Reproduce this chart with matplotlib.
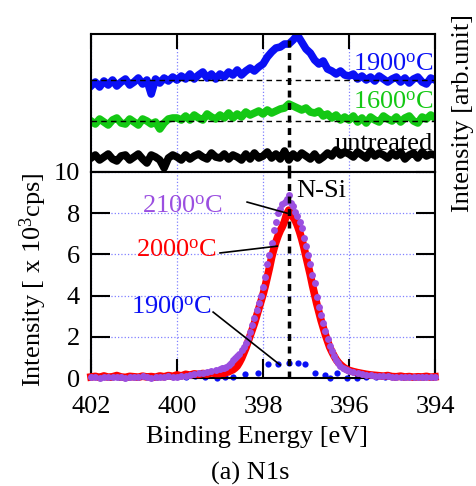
import numpy as np
import matplotlib
matplotlib.use("Agg")
import matplotlib.pyplot as plt

plt.rcParams['font.family'] = ['Liberation Serif', 'DejaVu Serif']
plt.rcParams['mathtext.fontset'] = 'custom'
plt.rcParams['mathtext.rm'] = 'Liberation Serif'
plt.rcParams['mathtext.it'] = 'Liberation Serif:italic'

# 🔹 Bottom panel: N1s intensity [x 10^3 cps]
energy_peak = [
    402.0, 401.9, 401.8, 401.7, 401.6, 401.5, 401.4, 401.3, 401.2, 401.1,
    401.0, 400.9, 400.8, 400.7, 400.6, 400.5, 400.4, 400.3, 400.2, 400.1,
    400.0, 399.9, 399.8, 399.7, 399.6, 399.5, 399.4, 399.3, 399.2, 399.1,
    399.0, 398.95, 398.9, 398.85, 398.8, 398.75, 398.7, 398.65, 398.6, 398.55,
    398.5, 398.45, 398.4, 398.35, 398.3, 398.25, 398.2, 398.15, 398.1, 398.05,
    398.0, 397.95, 397.9, 397.85, 397.8, 397.75, 397.7, 397.65, 397.6, 397.55,
    397.5, 397.45, 397.4, 397.35, 397.3, 397.25, 397.2, 397.15, 397.1, 397.05,
    397.0, 396.95, 396.9, 396.85, 396.8, 396.75, 396.7, 396.65, 396.6, 396.55,
    396.5, 396.45, 396.4, 396.35, 396.3, 396.25, 396.2, 396.15, 396.1, 396.05,
    396.0, 395.9, 395.8, 395.7, 395.6, 395.5, 395.4, 395.3, 395.2, 395.1,
    395.0, 394.9, 394.8, 394.7, 394.6, 394.5, 394.4, 394.3, 394.2, 394.1,
    394.0,
]
int_2100 = [
    0.03, 0.05, 0.02, 0.06, 0.04, 0.03, 0.05, 0.04, 0.02, 0.06,
    0.05, 0.03, 0.08, 0.04, 0.02, 0.05, 0.04, 0.06, 0.09, 0.05,
    0.06, 0.12, 0.10, 0.15, 0.18, 0.22, 0.25, 0.27, 0.33, 0.38,
    0.45, 0.47, 0.50, 0.55, 0.62, 0.72, 0.85, 0.98, 1.08, 1.18,
    1.35, 1.52, 1.70, 1.95, 2.25, 2.55, 2.90, 3.30, 3.65, 4.00,
    4.40, 4.90, 5.55, 5.95, 6.55, 7.20, 7.55, 8.00, 8.20, 8.45,
    8.55, 8.70, 8.88, 8.50, 8.35, 8.05, 7.85, 7.55, 7.30, 6.80,
    6.40, 5.95, 5.55, 5.00, 4.60, 3.95, 3.45, 3.05, 2.65, 2.30,
    1.90, 1.55, 1.30, 1.05, 0.85, 0.72, 0.60, 0.50, 0.45, 0.40,
    0.35, 0.28, 0.25, 0.20, 0.17, 0.15, 0.12, 0.10, 0.08, 0.10,
    0.06, 0.05, 0.07, 0.04, 0.06, 0.03, 0.05, 0.04, 0.06, 0.03,
    0.05,
]
int_2000 = [
    0.05, 0.08, 0.03, 0.10, 0.04, 0.06, 0.12, 0.05, 0.03, 0.08,
    0.06, 0.04, 0.09, 0.05, 0.07, 0.04, 0.10, 0.06, 0.12, 0.08,
    0.15, 0.10, 0.18, 0.14, 0.20, 0.17, 0.22, 0.19, 0.25, 0.22,
    0.22, 0.25, 0.23, 0.28, 0.30, 0.36, 0.40, 0.48, 0.58, 0.75,
    0.95, 1.20, 1.45, 1.75, 2.05, 2.35, 2.65, 3.00, 3.35, 3.70,
    4.05, 4.45, 4.90, 5.35, 5.85, 6.25, 6.60, 6.90, 7.15, 7.35,
    7.60, 7.95, 8.15, 8.00, 7.80, 7.65, 7.40, 7.10, 6.75, 6.35,
    5.90, 5.45, 5.00, 4.50, 4.05, 3.60, 3.20, 2.80, 2.45, 2.10,
    1.80, 1.50, 1.28, 1.08, 0.90, 0.76, 0.65, 0.56, 0.48, 0.42,
    0.37, 0.31, 0.26, 0.22, 0.18, 0.15, 0.13, 0.11, 0.09, 0.12,
    0.07, 0.06, 0.09, 0.05, 0.07, 0.04, 0.06, 0.05, 0.08, 0.04,
    0.06,
]
energy_1900 = [
    402.0, 401.78, 401.56, 401.34, 401.12, 400.9, 400.68, 400.46, 400.24, 400.02,
    399.8, 399.58, 399.36, 399.08, 398.88, 398.69, 398.42, 398.11, 397.88, 397.64,
    397.39, 397.18, 397.02, 396.79, 396.56, 396.44, 396.29, 396.05, 395.82, 395.6,
    395.38, 395.16, 394.94, 394.72, 394.5, 394.28, 394.06,
]
int_1900 = [
    0.05, 0.08, 0.04, 0.06, 0.07, 0.05, 0.09, 0.06, 0.08, 0.10,
    0.07, 0.09, 0.05, 0.02, 0.04, 0.03, 0.18, 0.22, 0.66, 0.66,
    0.72, 0.74, 0.66, 0.26, 0.14, 0.01, 0.22, 0.00, 0.02, 0.06,
    0.04, 0.07, 0.05, 0.06, 0.04, 0.07, 0.05,
]

# 🔹 Top panel: stacked spectra [arb.unit]
energy_top = [
    402.0, 401.9, 401.8, 401.7, 401.6, 401.5, 401.4, 401.3, 401.2, 401.1,
    401.0, 400.9, 400.8, 400.7, 400.6, 400.5, 400.4, 400.3, 400.2, 400.1,
    400.0, 399.9, 399.8, 399.7, 399.6, 399.5, 399.4, 399.3, 399.2, 399.1,
    399.0, 398.9, 398.8, 398.7, 398.6, 398.5, 398.4, 398.3, 398.2, 398.1,
    398.0, 397.9, 397.8, 397.7, 397.6, 397.5, 397.4, 397.3, 397.2, 397.1,
    397.0, 396.9, 396.8, 396.7, 396.6, 396.5, 396.4, 396.3, 396.2, 396.1,
    396.0, 395.9, 395.8, 395.7, 395.6, 395.5, 395.4, 395.3, 395.2, 395.1,
    395.0, 394.9, 394.8, 394.7, 394.6, 394.5, 394.4, 394.3, 394.2, 394.1,
    394.0,
]
top_untreated = [
    14, 17, 12, 15, 18, 13, 11, 16, 17, 12,
    15, 18, 13, 9, 17, 15, 12, 4, 14, 17,
    15, 12, 17, 13, 16, 18, 15, 13, 19, 15,
    14, 18, 13, 17, 15, 12, 18, 13, 19, 14,
    16, 20, 14, 18, 13, 21, 12, 18, 14, 19,
    16, 13, 18, 12, 15, 19, 16, 22, 17, 20,
    18, 15, 20, 17, 14, 21, 16, 19, 17, 14,
    19, 16, 20, 13, 17, 19, 14, 20, 16, 18,
    17,
]
top_1600 = [
    51, 48, 53, 50, 47, 52, 54, 49, 48, 53,
    50, 47, 53, 51, 48, 50, 43, 49, 53, 54,
    54, 52, 56, 52, 57, 54, 52, 58, 55, 53,
    57, 54, 59, 54, 58, 55, 60, 57, 59, 61,
    58, 62, 59, 61, 63, 64, 68, 66, 64, 62,
    64, 60, 59, 61, 56, 58, 54, 57, 52, 55,
    52, 56, 50, 54, 49, 55, 52, 50, 56, 53,
    51, 55, 50, 54, 56, 51, 49, 55, 53, 57,
    54,
]
top_1900 = [
    86, 90, 85, 91, 87, 92, 86, 90, 93, 87,
    90, 94, 88, 92, 78, 93, 89, 94, 91, 95,
    92, 96, 93, 98, 93, 97, 100, 94, 98, 93,
    98, 95, 100, 97, 102, 97, 101, 104, 101, 105,
    108, 115, 120, 124, 125, 128, 128, 132, 137, 130,
    123, 119, 112, 108, 111, 103, 101, 98, 101, 97,
    96, 98, 93, 96, 92, 95, 91, 96, 93, 90,
    93, 95, 90, 94, 89, 93, 95, 90, 88, 94,
    92,
]
base_1900 = 92
base_1600 = 51

x_ticks = [402, 400, 398, 396, 394]
y_ticks = [0, 2, 4, 6, 8, 10]
peak_pos = 397.4

c_purple = "#9b4fe0"
c_red = "#ff0000"
c_blue = "#0a10f5"
c_green = "#14c814"
c_grid = "#8080ff"

fig = plt.figure(figsize=(4.77, 4.86), dpi=100)
ax_top = fig.add_axes([0.1908, 0.6461, 0.7212, 0.2839])
ax = fig.add_axes([0.1908, 0.2222, 0.7212, 0.4239])

# 🔹 Top panel
ax_top.plot(energy_top, top_untreated, color="black", lw=5.5)
ax_top.plot(energy_top, top_1600, color=c_green, lw=5.5)
ax_top.plot(energy_top, top_1900, color=c_blue, lw=5.5)
ax_top.axhline(base_1900, color="black", ls=(0, (4, 3)), lw=1.0, zorder=3)
ax_top.axhline(base_1600, color="black", ls=(0, (4, 3)), lw=1.0, zorder=3)
ax_top.axvline(peak_pos, color="black", ls=(0, (2, 1.6)), lw=2.5, zorder=4)
ax_top.set_xlim(402, 394)
ax_top.set_ylim(0, 138)
ax_top.set_xticks(x_ticks)
ax_top.set_yticks([])
ax_top.tick_params(axis="x", direction="in", length=11, width=1.5,
                   top=True, bottom=False, labelbottom=False, labeltop=False)
ax_top.grid(True, axis="x", color=c_grid, linestyle=":", linewidth=0.9)
ax_top.text(394.03, 107, r"1900$^{\mathrm{o}}$C", color=c_blue, fontsize=19,
            ha="right", va="center")
ax_top.text(394.03, 69, r"1600$^{\mathrm{o}}$C", color=c_green, fontsize=19,
            ha="right", va="center")
ax_top.text(394.05, 28, "untreated", color="black", fontsize=19,
            ha="right", va="center")

# 🔹 Bottom panel
ax.plot(energy_1900, int_1900, "o", color=c_blue, ms=4.5, mew=0, clip_on=False, zorder=2)
ax.plot(energy_peak, int_2000, color=c_red, lw=5.5, clip_on=False, zorder=3)
ax.plot(energy_peak, int_2100, "o", color=c_purple, ms=5.0, mew=0, clip_on=False, zorder=4)
ax.axvline(peak_pos, color="black", ls=(0, (2, 1.6)), lw=2.5, zorder=5)
ax.set_xlim(402, 394)
ax.set_ylim(0, 10)
ax.set_xticks(x_ticks)
ax.set_yticks(y_ticks)
ax.tick_params(direction="in", length=14, width=1.5, right=True, top=False,
               labelsize=19)
ax.tick_params(axis="x", pad=13)
ax.tick_params(axis="y", pad=8)
ax.grid(True, color=c_grid, linestyle=":", linewidth=0.9)

ax.text(397.22, 9.08, "N-Si", fontsize=19, ha="left", va="center")
ax.text(398.93, 8.3, r"2100$^{\mathrm{o}}$C", color=c_purple, fontsize=19, ha="right", va="center")
ax.plot([398.37, 397.44], [8.54, 8.0], color="black", lw=1.2, zorder=6)
ax.text(399.07, 6.2, r"2000$^{\mathrm{o}}$C", color=c_red, fontsize=19, ha="right", va="center")
ax.plot([399.0, 397.67], [6.07, 6.4], color="black", lw=1.2, zorder=6)
ax.text(399.19, 3.4, r"1900$^{\mathrm{o}}$C", color=c_blue, fontsize=19, ha="right", va="center")
ax.plot([399.16, 397.6], [3.2, 0.63], color="black", lw=1.2, zorder=6)

for a in (ax, ax_top):
    for s in a.spines.values():
        s.set_linewidth(1.5)

fig.text(257 / 477, 1 - 437 / 486, "Binding Energy [eV]", fontsize=19, ha="center", va="center")
fig.text(250 / 477, 1 - 473 / 486, "(a) N1s", fontsize=19, ha="center", va="center")
fig.text(33 / 477, 1 - 280 / 486, r"Intensity [ x 10$^{3}$cps]", fontsize=19,
         rotation=90, ha="center", va="center")
fig.text(463 / 477, 1 - 113 / 486, "Intensity [arb.unit]", fontsize=19,
         rotation=90, ha="center", va="center")

fig.savefig("out.png", dpi=100)
